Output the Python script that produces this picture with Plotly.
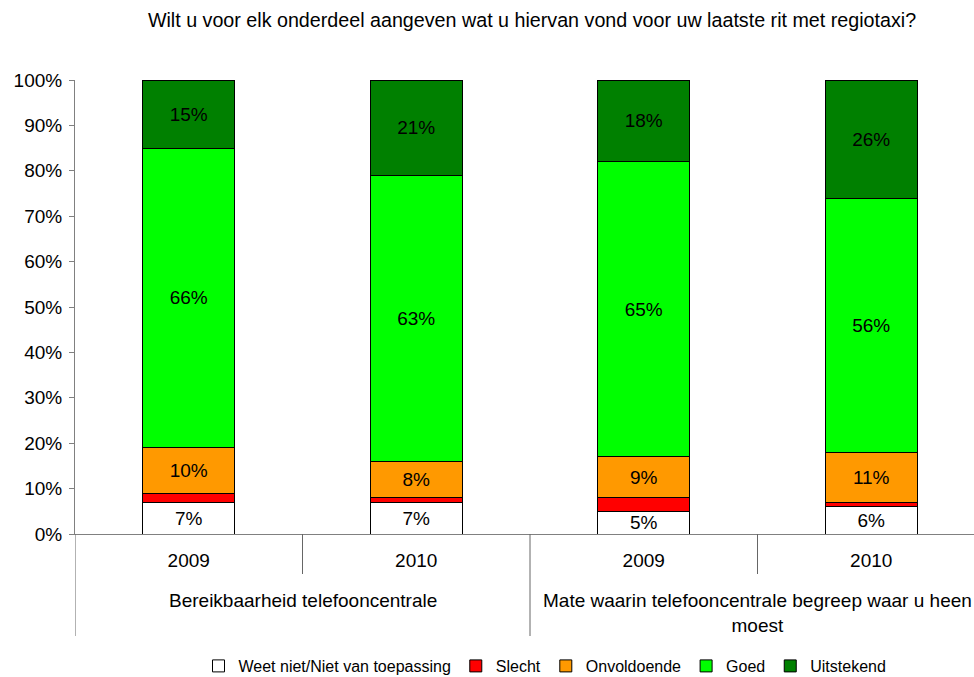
import plotly.graph_objects as go

groups = ["Bereikbaarheid telefooncentrale",
          "Mate waarin telefooncentrale begreep waar u heen<br>moest"]
years = ["2009", "2010", "2009", "2010"]
series_names = ["Weet niet/Niet van toepassing", "Slecht", "Onvoldoende", "Goed", "Uitstekend"]
weet_niet = [7, 7, 5, 6]
slecht = [2, 1, 3, 1]
onvoldoende = [10, 8, 9, 11]
goed = [66, 63, 65, 56]
uitstekend = [15, 21, 18, 26]
y_ticks = [0, 10, 20, 30, 40, 50, 60, 70, 80, 90, 100]
y_tick_labels = [f"{v}%" for v in y_ticks]
colors = ["#FFFFFF", "#FF0000", "#FF9900", "#00FF00", "#008000"]
show_labels = [True, False, True, True, True]
title = "Wilt u voor elk onderdeel aangeven wat u hiervan vond voor uw laatste rit met regiotaxi?"

FONT = "Liberation Sans, Arial, sans-serif"
xpos = list(range(len(years)))

fig = go.Figure()
for name, vals, col, lab in zip(series_names, [weet_niet, slecht, onvoldoende, goed, uitstekend], colors, show_labels):
    fig.add_trace(go.Bar(
        x=xpos, y=vals, name=name, width=0.404,
        marker=dict(color=col, line=dict(color="black", width=1)),
        text=[f"{v}%" for v in vals] if lab else None,
        textposition="inside" if lab else "none",
        insidetextanchor="middle",
        textfont=dict(family=FONT, size=19, color="black"),
        constraintext="none",
        hoverinfo="skip",
    ))

fig.update_layout(
    barmode="stack",
    width=974, height=677,
    margin=dict(l=75, r=0, t=80, b=143, autoexpand=False),
    paper_bgcolor="white", plot_bgcolor="white",
    font=dict(family=FONT, color="black"),
    title=dict(text=title, x=532/974, xanchor="center", y=1-20/677, yanchor="middle",
               font=dict(size=19.7, family=FONT, color="black")),
    uniformtext=dict(minsize=19, mode="show"),
    showlegend=True,
    legend=dict(orientation="h", x=545/974, xanchor="center", xref="container",
                y=1-666/677, yanchor="middle", yref="container",
                traceorder="normal", font=dict(size=16, family=FONT, color="black"),
                itemwidth=30, tracegroupgap=0, bgcolor="rgba(0,0,0,0)"),
)
fig.update_xaxes(
    range=[-0.5, -0.5 + 899/227.5],
    tickvals=xpos, ticktext=years, ticks="",
    tickfont=dict(size=19, family=FONT, color="black"),
    ticklabelstandoff=9, automargin=False,
    showline=True, linecolor="#808080", linewidth=1,
    showgrid=False, zeroline=False,
)
fig.update_yaxes(
    range=[0, 100], tickvals=y_ticks, ticktext=y_tick_labels,
    ticks="outside", ticklen=5, tickcolor="#808080", automargin=False,
    ticklabelstandoff=3,
    tickfont=dict(size=19, family=FONT, color="black"),
    showline=True, linecolor="#808080", linewidth=1,
    showgrid=False, zeroline=False,
)

# Category dividers
ph = 454.0
for xb, depth in [(-0.5, 102), (0.5, 40), (1.5, 102), (2.5, 40)]:
    fig.add_shape(type="line", xref="x", yref="paper", x0=xb, x1=xb, y0=0, y1=-depth/ph,
                  line=dict(color="#666666", width=1))

# Group labels
fig.add_annotation(x=0.5, xref="x", y=-(600-534)/ph, yref="paper", text=groups[0],
                   showarrow=False, yanchor="middle", xanchor="center",
                   font=dict(size=19, family=FONT, color="black"))
fig.add_annotation(x=2.5, xref="x", y=-(612.5-534)/ph, yref="paper", text=groups[1],
                   showarrow=False, yanchor="middle", xanchor="center",
                   font=dict(size=19, family=FONT, color="black"))

fig.write_html("out.html", config={"displayModeBar": False},
               post_script="document.body.style.margin='0';document.body.style.overflow='hidden';")
